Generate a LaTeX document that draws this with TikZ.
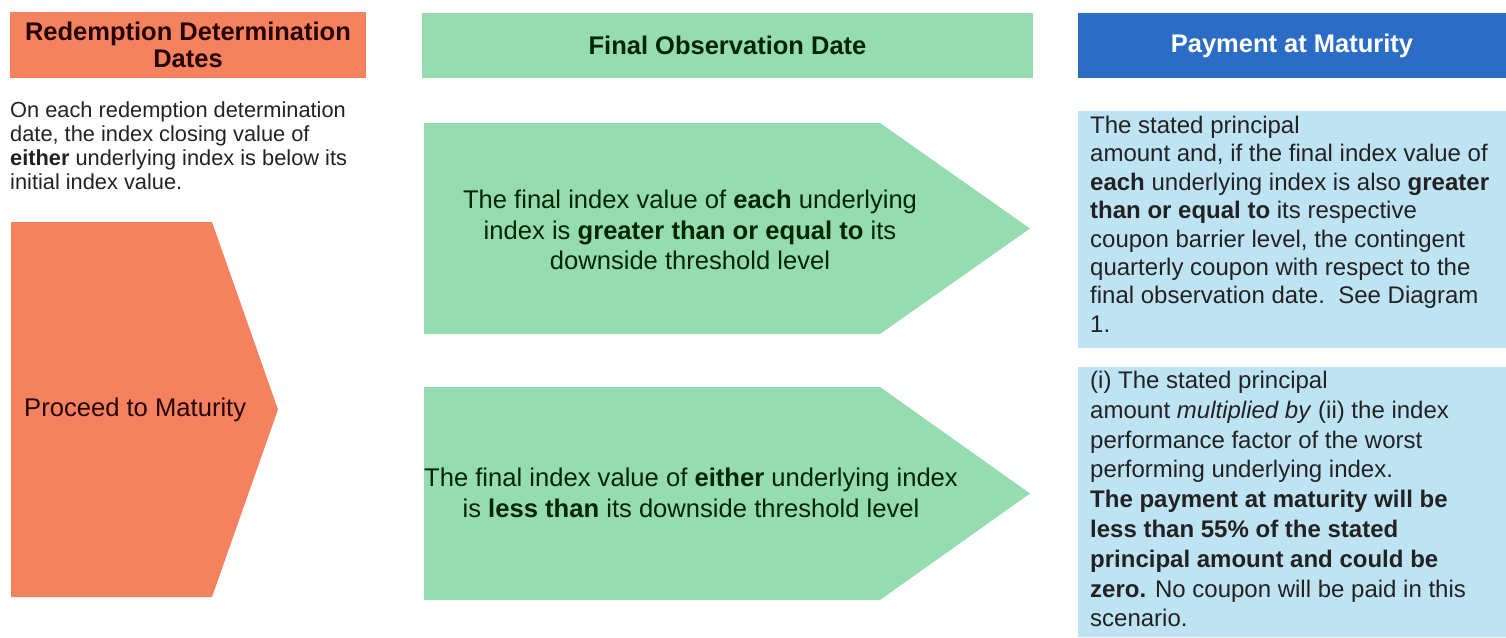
\documentclass[tikz,border=0pt]{standalone}
\usepackage{fontspec}
\setmainfont{Liberation Sans}
\usepackage{tikz}
\usepackage{xcolor}
\definecolor{salmon}{HTML}{F4825F}
\definecolor{mint}{HTML}{95DDB0}
\definecolor{royal}{HTML}{2B6CC4}
\definecolor{sky}{HTML}{BEE3F2}
\definecolor{ink}{HTML}{222222}

\begin{document}
\begin{tikzpicture}[x=1pt,y=-1pt]
      \useasboundingbox(0,0) rectangle (1506,637);
      \tikzset{H/.style = {font=\fontsize{25.5}{27}\selectfont\bfseries, align=center, inner sep=0pt}}
      \tikzset{M/.style = {font=\fontsize{25.6}{30.5}\selectfont, align=center, text=black!85!green}}
      \tikzset{B/.style = {font=\fontsize{24}{28.4}\selectfont, align=left, anchor=north west, inner sep=0pt, text=ink}}
      % headers
      \node[H,fill=salmon,text=black!85!red,minimum width=356,minimum height=66](h0) at (188,45) {Redemption Determination\\Dates};
      \node[H,fill=mint,text=black!85!green,minimum width=611,minimum height=65](h1) at (727.5,45.5) {Final Observation Date};
      \node[H,fill=royal,text=white,minimum width=428,minimum height=65](h2) at (1292,45.5) {Payment at Maturity};
      % left column
      \node[font=\fontsize{21.8}{23.8}\selectfont,align=left,anchor=north west,inner sep=0pt,text=ink](l0) at (10,102)
        {On each redemption determination\\date, the index closing value of\\\textbf{either} underlying index is below its\\initial index value.};
      \fill[salmon] (11,222) -- (212,222) -- (278,409.5) -- (212,597) -- (11,597) -- cycle;
      \node[font=\fontsize{25.6}{30}\selectfont,anchor=west,inner sep=0pt,text=black!85!red](l1) at (24,410) {Proceed to Maturity};
      % middle column
      \fill[mint] (424,123) -- (880,123) -- (1030,228.5) -- (880,334) -- (424,334) -- cycle;
      \fill[mint] (424,387) -- (880,387) -- (1030,493.5) -- (880,600) -- (424,600) -- cycle;
      \node[M](m0) at (690,230) {The final index value of \textbf{each} underlying\\index is \textbf{greater than or equal to} its\\downside threshold level};
      \node[M](m1) at (691,493) {The final index value of \textbf{either} underlying index\\is \textbf{less than} its downside threshold level};
      % right column
      \fill[sky] (1078,111) rectangle (1506,348);
      \fill[sky] (1078,367) rectangle (1506,637);
      \node[B](r0) at (1090,116) {The stated principal\\amount and, if the final index value of\\\textbf{each} underlying index is also \textbf{greater}\\\textbf{than or equal to} its respective\\coupon barrier level, the contingent\\quarterly coupon with respect to the\\final observation date.\ \ See Diagram\\1.};
      \node[B,font=\fontsize{24}{29.8}\selectfont](r1) at (1090,371) {(i) The stated principal\\amount \textit{multiplied by} (ii) the index\\performance factor of the worst\\performing underlying index.\\\textbf{The payment at maturity will be}\\\textbf{less than 55\% of the stated}\\\textbf{principal amount and could be}\\\textbf{zero.} No coupon will be paid in this\\scenario.};
    \end{tikzpicture}
\end{document}
